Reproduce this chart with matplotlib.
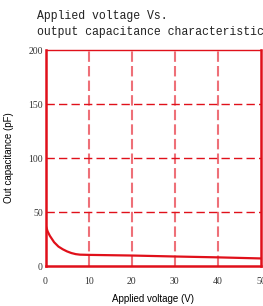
import matplotlib
matplotlib.use("Agg")
import matplotlib.pyplot as plt

# curve
volts = [0, 0.5, 1, 2, 3, 4, 5, 6, 7, 8, 10, 20, 30, 40, 50]
cap_pf = [38, 32, 28, 22, 18, 15.5, 13.5, 12, 11, 10.5, 10.3, 9.7, 8.8, 8.0, 7.0]

x_ticks = [0, 10, 20, 30, 40, 50]
y_ticks = [0, 50, 100, 150, 200]

red = "#e0101a"

fig = plt.figure(figsize=(2.63, 3.06), dpi=100)
ax = fig.add_axes([45.5 / 263, 1 - 266 / 306, 215.5 / 263, 216 / 306])

ax.plot(volts, cap_pf, color=red, lw=1.6, solid_capstyle="round")

for v in x_ticks[1:-1]:
    ax.axvline(v, color="#ee7078", lw=1.5, ls=(0, (5, 2)), zorder=0)
for c in y_ticks[1:-1]:
    ax.axhline(c, color=red, lw=1.0, ls=(0, (6, 3)), zorder=0)

ax.set_xlim(0, 50)
ax.set_ylim(0, 200)
ax.set_xticks(x_ticks)
ax.set_yticks(y_ticks)
ax.tick_params(length=0, pad=5, labelsize=7, labelcolor="#333333")
for lab in ax.get_xticklabels() + ax.get_yticklabels():
    lab.set_fontfamily("Liberation Serif")
ax.tick_params(axis="y", pad=2)
ax.tick_params(axis="x", pad=8)

for s in ["left", "bottom", "right"]:
    ax.spines[s].set_color(red)
    ax.spines[s].set_linewidth(1.8)
ax.spines["top"].set_color(red)
ax.spines["top"].set_linewidth(1.0)

ax.set_xlabel("Applied voltage (V)", fontsize=7, family="Liberation Sans", labelpad=6)
ax.set_ylabel("Out capacitance (pF)", fontsize=7, family="Liberation Sans", labelpad=10)

fig.text(37 / 263, 1 - 16 / 306, "Applied voltage Vs.", fontsize=8.3,
         family="Liberation Mono", va="center", ha="left", color="#222222")
fig.text(37 / 263, 1 - 32 / 306, "output capacitance characteristic", fontsize=8.3,
         family="Liberation Mono", va="center", ha="left", color="#222222")

fig.savefig("out.png", dpi=100)
